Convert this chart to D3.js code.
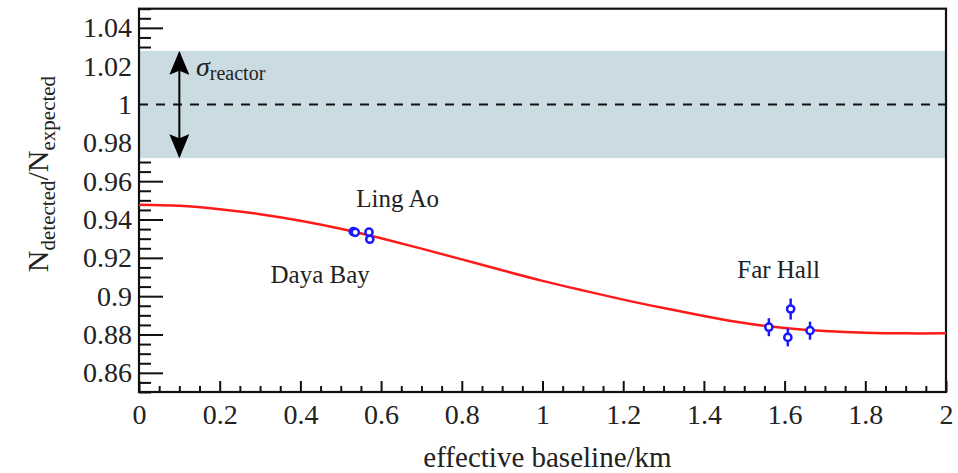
<!DOCTYPE html>
<html>
<head>
<meta charset="utf-8">
<script src="https://cdn.jsdelivr.net/npm/d3@7"></script>
<style>
  body { margin: 0; background: #fff; }
  svg { display: block; font-family: "Liberation Serif", "Times New Roman", serif; }
</style>
</head>
<body>
<svg width="958" height="473"></svg>
<script>
// curve
var curveX = [0, 0.1, 0.2, 0.3, 0.4, 0.5, 0.6, 0.7, 0.8, 0.9, 1.0, 1.1, 1.2, 1.3, 1.4, 1.5, 1.6, 1.7, 1.8, 1.9, 2.0];
var curveY = [0.9477, 0.9472, 0.9454, 0.9428, 0.9394, 0.9352, 0.9302, 0.9248, 0.9192, 0.9135, 0.9080,
              0.9030, 0.8982, 0.8938, 0.8897, 0.8860, 0.8834, 0.8818, 0.8809, 0.8806, 0.8806];

// detector points
var pointX = [0.531, 0.536, 0.570, 0.572, 1.561, 1.615, 1.608, 1.663];
var pointY = [0.9337, 0.9333, 0.9334, 0.9297, 0.8838, 0.8933, 0.8785, 0.8820];
var pointErr = [0.0015, 0.0015, 0.0015, 0.0015, 0.0047, 0.0055, 0.0047, 0.0047];

var hallNames = ["Ling Ao", "Daya Bay", "Far Hall"];
var hallX = [0.641, 0.449, 1.585];
var hallY = [0.9467, 0.9069, 0.9093];

var band = [0.972, 1.028];
var expected = 1;
var arrowX = 0.1;

var xTicks = [0, 0.2, 0.4, 0.6, 0.8, 1, 1.2, 1.4, 1.6, 1.8, 2];
var xTickLabels = ["0", "0.2", "0.4", "0.6", "0.8", "1", "1.2", "1.4", "1.6", "1.8", "2"];
var yTicks = [0.86, 0.88, 0.9, 0.92, 0.94, 0.96, 0.98, 1, 1.02, 1.04];
var yTickLabels = ["0.86", "0.88", "0.9", "0.92", "0.94", "0.96", "0.98", "1", "1.02", "1.04"];

var svg = d3.select('svg');

var x = d3.scaleLinear().domain([0, 2]).range([139, 946]);
var y = d3.scaleLinear().domain([0.85, 1.05]).range([392, 8.7]);

var minorX = d3.range(0, 2.0001, 0.05).filter(v => Math.abs(v * 5 - Math.round(v * 5)) > 1e-6);
var minorY = d3.range(0.85, 1.0501, 0.005).filter(v => Math.abs(v * 50 - Math.round(v * 50)) > 1e-6);

// minor ticks
svg.append("g")
    .attr("transform", "translate(0,392)")
    .call(d3.axisBottom(x).tickValues(minorX).tickSizeInner(-6).tickSizeOuter(0).tickFormat(""));
svg.append("g")
    .attr("transform", "translate(139,0)")
    .call(d3.axisLeft(y).tickValues(minorY).tickSizeInner(-12).tickSizeOuter(0).tickFormat(""));

// major ticks
var xAxis = d3.axisBottom(x)
    .tickValues(xTicks)
    .tickFormat((d, i) => xTickLabels[i])
    .tickSizeInner(-11).tickSizeOuter(0).tickPadding(12);
var yAxis = d3.axisLeft(y)
    .tickValues(yTicks)
    .tickFormat((d, i) => yTickLabels[i])
    .tickSizeInner(-24).tickSizeOuter(0).tickPadding(7);

svg.append("g")
    .attr("class", "x axis")
    .attr("transform", "translate(0,392)")
    .call(xAxis);
svg.append("g")
    .attr("class", "y axis")
    .attr("transform", "translate(139,0)")
    .call(yAxis);

svg.selectAll(".tick line").attr("stroke", "#111").attr("stroke-width", 2);
svg.selectAll(".domain").attr("stroke", "none");
svg.selectAll(".tick text")
    .attr("font-size", 28)
    .attr("fill", "#222")
    .attr("font-family", "Liberation Serif");

// reactor uncertainty band
svg.append("rect")
    .attr("x", x(0) + 1)
    .attr("y", y(band[1]))
    .attr("width", x(2) - x(0) - 1)
    .attr("height", y(band[0]) - y(band[1]))
    .attr("fill", "#cbdbe2");

svg.append("line")
    .attr("x1", x(0)).attr("x2", x(2))
    .attr("y1", y(expected)).attr("y2", y(expected))
    .attr("stroke", "#111")
    .attr("stroke-width", 2)
    .attr("stroke-dasharray", "9,8");

// frame
svg.append("rect")
    .attr("x", x(0)).attr("y", y(1.05))
    .attr("width", x(2) - x(0))
    .attr("height", y(0.85) - y(1.05))
    .attr("fill", "none")
    .attr("stroke", "#111")
    .attr("stroke-width", 2.2);

// double arrow
var defs = svg.append("defs");
defs.append("marker")
    .attr("id", "head")
    .attr("markerUnits", "userSpaceOnUse")
    .attr("viewBox", "0 -10 24 20")
    .attr("refX", 22).attr("refY", 0)
    .attr("markerWidth", 24).attr("markerHeight", 20)
    .attr("orient", "auto-start-reverse")
    .append("path")
    .attr("d", "M0,-10L24,0L0,10L4,0Z")
    .attr("fill", "#000");

svg.append("line")
    .attr("x1", x(arrowX)).attr("x2", x(arrowX))
    .attr("y1", y(band[1]) + 2).attr("y2", y(band[0]) - 2)
    .attr("stroke", "#000")
    .attr("stroke-width", 2)
    .attr("marker-start", "url(#head)")
    .attr("marker-end", "url(#head)");

var sigma = svg.append("text")
    .attr("x", x(0.1413))
    .attr("y", y(1.0149))
    .attr("fill", "#222");
sigma.append("tspan").attr("font-size", 28).attr("font-style", "italic").text("σ");
sigma.append("tspan").attr("font-size", 20).attr("dy", 4).text("reactor");

// expectation curve
var line = d3.line()
    .x(d => x(d[0]))
    .y(d => y(d[1]))
    .curve(d3.curveNatural);

svg.append("path")
    .datum(curveX.map((v, i) => [v, curveY[i]]))
    .attr("d", line)
    .attr("fill", "none")
    .attr("stroke", "#ff1a1a")
    .attr("stroke-width", 2.5);

// points with error bars
var pts = pointX.map((v, i) => ({x: v, y: pointY[i], e: pointErr[i]}));

svg.selectAll(".err")
    .data(pts)
    .enter().append("line")
    .attr("class", "err")
    .attr("x1", d => x(d.x)).attr("x2", d => x(d.x))
    .attr("y1", d => y(d.y + d.e)).attr("y2", d => y(d.y - d.e))
    .attr("stroke", "#1a1aff")
    .attr("stroke-width", 2.5);

svg.selectAll(".pt")
    .data(pts)
    .enter().append("circle")
    .attr("class", "pt")
    .attr("cx", d => x(d.x))
    .attr("cy", d => y(d.y))
    .attr("r", 3.6)
    .attr("fill", "#fff")
    .attr("stroke", "#1a1aff")
    .attr("stroke-width", 2.5);

// hall labels
svg.selectAll(".hall")
    .data(hallNames)
    .enter().append("text")
    .attr("class", "hall")
    .attr("x", (d, i) => x(hallX[i]))
    .attr("y", (d, i) => y(hallY[i]))
    .attr("text-anchor", "middle")
    .attr("font-size", 25)
    .attr("fill", "#222")
    .text(d => d);

// axis titles
svg.append("text")
    .attr("x", (x(0) + x(2)) / 2 + 5)
    .attr("y", 467)
    .attr("text-anchor", "middle")
    .attr("font-size", 29)
    .attr("fill", "#222")
    .text("effective baseline/km");

var yTitle = svg.append("text")
    .attr("transform", "translate(48,174) rotate(-90)")
    .attr("text-anchor", "middle")
    .attr("font-size", 30)
    .attr("fill", "#222");
yTitle.append("tspan").text("N");
yTitle.append("tspan").attr("font-size", 21).attr("dy", 7).text("detected");
yTitle.append("tspan").attr("dy", -7).text("/N");
yTitle.append("tspan").attr("font-size", 21).attr("dy", 7).text("expected");
</script>
</body>
</html>
